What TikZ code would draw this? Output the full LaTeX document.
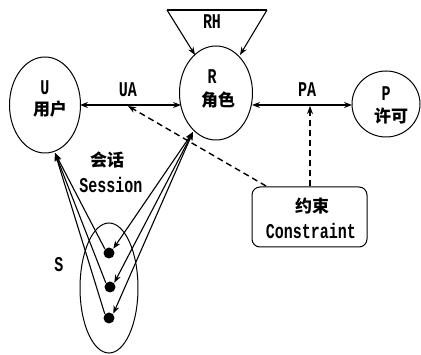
\documentclass[tikz,border=0pt]{standalone}
\usepackage{fontspec}
\usepackage{graphicx}
\setmainfont{Liberation Mono}
\newfontfamily\cjk{Noto Sans CJK SC}
\usetikzlibrary{arrows.meta,shapes.geometric}
\newcommand\mylat[1]{\scalebox{1}[1.4]{\fontsize{15}{16}\selectfont\bfseries #1}}
\newcommand\mycjk[1]{{\cjk\fontsize{17}{18}\selectfont\bfseries #1}}
\begin{document}
\begin{tikzpicture}[x=1pt,y=-1pt,line width=1.1pt,
  >={Stealth[length=8pt,width=6pt]},
  ell/.style={draw,ellipse,inner sep=0pt,line width=1pt},
  txt/.style={inner sep=0pt},
  dot/.style={circle,fill,inner sep=0pt,minimum size=11pt},
  dsh/.style={dashed,dash pattern=on 6pt off 4pt,line width=1.4pt}]
\useasboundingbox[fill=white] (0,0) rectangle (421,355);
% main shapes
\node[ell,minimum width=71pt,minimum height=96pt] (U) at (45,105) {};
\node[ell,minimum width=73pt,minimum height=94pt] (R) at (216,93) {};
\node[ell,minimum width=68pt,minimum height=66pt] (P) at (386,104) {};
\node[ell,minimum width=58pt,minimum height=130pt] (S) at (109,288) {};
\node[draw,line width=1pt,rounded corners=8pt,minimum width=115pt,minimum height=60pt,inner sep=0pt] (C) at (309.5,217) {};
% texts
\node[txt] (Ut) at (45,88) {\mylat{U}};
\node[txt] (Uc) at (50,109) {\mycjk{用户}};
\node[txt] (Rt) at (212,77) {\mylat{R}};
\node[txt] (Rc) at (218,100) {\mycjk{角色}};
\node[txt] (Pt) at (386,94) {\mylat{P}};
\node[txt] (Pc) at (391,116) {\mycjk{许可}};
\node[txt] (RHt) at (212,22) {\mylat{RH}};
\node[txt] (UAt) at (128,90) {\mylat{UA}};
\node[txt] (PAt) at (307,90) {\mylat{PA}};
\node[txt] (Ct1) at (312,206) {\mycjk{约束}};
\node[txt] (Ct2) at (311,231) {\mylat{Constraint}};
\node[txt] (St1) at (107,160) {\mycjk{会话}};
\node[txt] (St2) at (111,185) {\mylat{Session}};
\node[txt] (Sl) at (59,265) {\mylat{S}};
% dots
\node[dot] (d1) at (109,253) {};
\node[dot] (d2) at (110,287) {};
\node[dot] (d3) at (109,318) {};
% RH
\coordinate (rh1) at (167,10);
\coordinate (rh2) at (267,10);
\coordinate (rh1e) at (195,55);
\coordinate (rh2e) at (240,55);
\draw (rh1) -- (rh2);
\draw[->] (rh1) -- (rh1e);
\draw[->] (rh2) -- (rh2e);
% UA, PA
\coordinate (uaL) at (80,105);
\coordinate (uaR) at (181,105);
\coordinate (paL) at (252,105);
\coordinate (paR) at (352,105);
\draw[<->] (uaL) -- (uaR);
\draw[<->] (paL) -- (paR);
% constraints
\coordinate (ua0) at (128,106);
\coordinate (pa0) at (310,106);
\coordinate (c0) at (266,186);
\draw[dsh,->] (c0) -- (ua0);
\draw[dsh,->] (C.north -| pa0) -- (pa0);
% sessions
\coordinate (uu) at (55,153);
\coordinate (rr) at (193,132);
\foreach \d in {d1,d2,d3}{
  \draw[->] (\d.north west) -- (uu);
  \draw[<->] (rr) -- (\d.north east);
}
\end{tikzpicture}
\end{document}
